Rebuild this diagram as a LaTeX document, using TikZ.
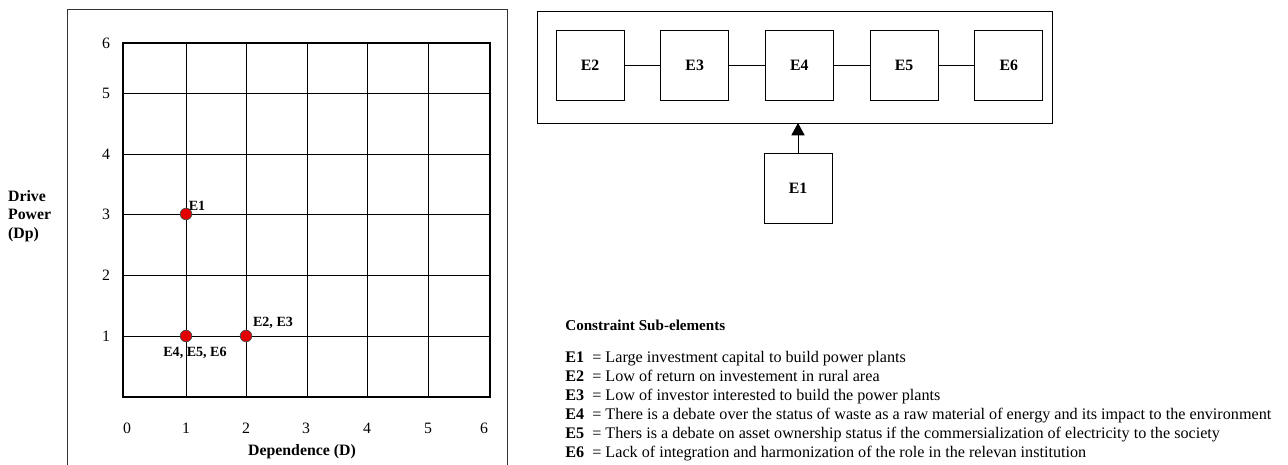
\documentclass[tikz,border=0pt]{standalone}
\usepackage{fontspec}
\setmainfont{Liberation Serif}
\usetikzlibrary{positioning,arrows.meta}

\tikzset{
	elem/.style={draw, minimum width=1.36cm, minimum height=1.4cm, font=\fontsize{9}{10}\selectfont\bfseries},
	dot/.style={circle, draw=black!70, fill=red!90!black, inner sep=0pt, minimum size=6.6pt},
	lbl/.style={font=\fontsize{8}{9}\selectfont\bfseries, inner sep=1pt},
	num/.style={font=\fontsize{9}{10}\selectfont}
}

\begin{document}
\begin{tikzpicture}[x=0.02cm,y=-0.02cm]
		\useasboundingbox (0,0) rectangle (1288,465);

		% frame of the plot
		\draw[black!80] (67,470) -- (67,9) -- (507,9) -- (507,470);

		% grid
		\foreach \gx in {186,246,307,367,428}
			\draw (\gx,43) -- (\gx,397);
		\foreach \gy in {93,154,214,275,336}
			\draw (123,\gy) -- (490,\gy);
		\draw[line width=1.7pt] (123,43) rectangle (490,397);

		% axis numbers
		\foreach \n/\gy in {6/43,5/93,4/154,3/214,2/275,1/336}
			\node[num] (y\n) at (106,\gy) {\n};
		\foreach \n/\gx in {0/127,1/186,2/246,3/306,4/367,5/428,6/484}
			\node[num] (x\n) at (\gx,428) {\n};

		% axis names
		\node[lbl, font=\fontsize{9}{10.5}\selectfont\bfseries, align=left, anchor=west] (dp) at (6,216) {Drive\\Power\\(Dp)};
		\node[lbl, font=\fontsize{9}{10}\selectfont\bfseries] (dd) at (302,452) {Dependence (D)};

		% sub-elements on the map
		\node[dot] (p1) at (186,214) {};
		\node[dot] (p23) at (246,336) {};
		\node[dot] (p456) at (186,336) {};
		\node[lbl] (t1) at (197,206) {E1};
		\node[lbl] (t23) at (273,323) {E2, E3};
		\node[lbl] (t456) at (195,353) {E4, E5, E6};

		% level box
		\draw (537,11) rectangle (1052,123);
		\coordinate (lvl) at (798,123);

		\node[elem] (e2) at (590,65) {E2};
		\node[elem, right=0.72cm of e2] (e3) {E3};
		\node[elem, right=0.72cm of e3] (e4) {E4};
		\node[elem, right=0.72cm of e4] (e5) {E5};
		\node[elem, right=0.72cm of e5] (e6) {E6};
		\draw (e2) -- (e3) (e3) -- (e4) (e4) -- (e5) (e5) -- (e6);

		\node[elem] (e1) at (798,188) {E1};
		\draw[-{Triangle[length=7pt,width=7.5pt]}] (e1) -- (lvl);

		% legend
		\node[anchor=north west, font=\fontsize{8.6}{10}\selectfont\bfseries, inner sep=0pt] (leg) at (565,320) {Constraint Sub-elements};
		\node[anchor=north west, inner sep=0pt, font=\fontsize{9.2}{10.77}\selectfont] (legtab) at (565,349) {%
			\begin{tabular}{@{}l@{\ \ }l@{\ }l@{}}
			\textbf{E1} & = & Large investment capital to build power plants\\
			\textbf{E2} & = & Low of return on investement in rural area\\
			\textbf{E3} & = & Low of investor interested to build the power plants\\
			\textbf{E4} & = & There is a debate over the status of waste as a raw material of energy and its impact to the environment\\
			\textbf{E5} & = & Thers is a debate on asset ownership status if the commersialization of electricity to the society\\
			\textbf{E6} & = & Lack of integration and harmonization of the role in the relevan institution
			\end{tabular}};
	\end{tikzpicture}
\end{document}
